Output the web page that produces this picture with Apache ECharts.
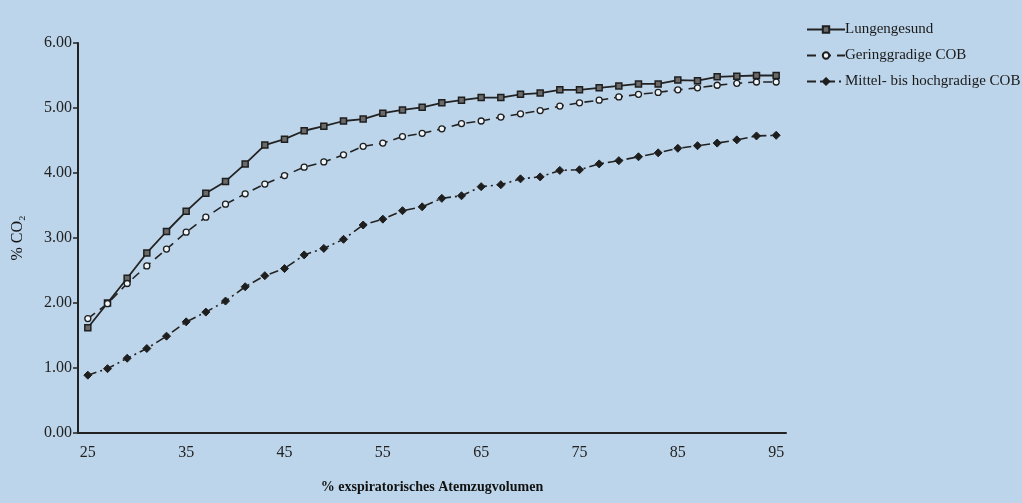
<!DOCTYPE html>
<html><head><meta charset="utf-8">
<script src="https://cdn.jsdelivr.net/npm/echarts@6/dist/echarts.min.js"></script>
<style>html,body{margin:0;padding:0;background:#bdd5ea;}#c{width:1022px;height:503px;}</style>
</head><body><div id="c"></div>
<script>
const categories = ['25','27','29','31','33','35','37','39','41','43','45','47','49','51','53','55','57','59','61','63','65','67','69','71','73','75','77','79','81','83','85','87','89','91','93','95'];
const lungengesund = [1.62,2.00,2.38,2.77,3.10,3.41,3.69,3.87,4.14,4.43,4.52,4.65,4.72,4.80,4.83,4.92,4.97,5.01,5.08,5.12,5.16,5.16,5.21,5.23,5.28,5.28,5.31,5.34,5.37,5.37,5.43,5.42,5.48,5.49,5.50,5.50];
const geringgradig = [1.76,1.99,2.30,2.57,2.83,3.09,3.32,3.52,3.68,3.83,3.96,4.09,4.17,4.28,4.41,4.46,4.56,4.61,4.68,4.76,4.80,4.86,4.91,4.96,5.03,5.08,5.12,5.17,5.21,5.24,5.28,5.31,5.35,5.38,5.40,5.40];
const mittelHoch = [0.89,0.99,1.15,1.30,1.49,1.71,1.86,2.03,2.25,2.42,2.53,2.74,2.84,2.98,3.20,3.29,3.42,3.48,3.61,3.65,3.79,3.82,3.91,3.94,4.04,4.05,4.14,4.19,4.25,4.31,4.38,4.42,4.46,4.51,4.57,4.58];
const seriesNames = ['Lungengesund','Geringgradige COB','Mittel- bis hochgradige COB'];
const yTicks = [0,1,2,3,4,5,6];

const serif = '"Liberation Serif","DejaVu Serif",serif';
const chart = echarts.init(document.getElementById('c'));
chart.setOption({
  backgroundColor: '#bdd5ea',
  animation: false,
  textStyle: {fontFamily: serif},
  grid: {left: 78, right: 236, top: 43, bottom: 70},
  legend: {
    orient: 'vertical', left: 801, top: 17, itemWidth: 38, itemHeight: 8, itemGap: 11,
    textStyle: {fontFamily: serif, fontSize: 15, color: '#1a1a1a', padding: [0,0,0,-5]},
    data: seriesNames
  },
  xAxis: {
    type: 'category', data: categories, boundaryGap: true,
    name: '% exspiratorisches Atemzugvolumen', nameLocation: 'middle', nameGap: 47,
    nameTextStyle: {fontFamily: serif, fontSize: 14, fontWeight: 'bold', color: '#111'},
    axisLine: {lineStyle: {color: '#222', width: 2}},
    axisTick: {interval: 0, length: 5, lineStyle: {color: '#222', width: 1.5}},
    axisLabel: {interval: 4, fontFamily: serif, fontSize: 16, color: '#222', margin: 12},
    splitLine: {show: false}
  },
  yAxis: {
    type: 'value', min: yTicks[0], max: yTicks[yTicks.length-1], interval: 1,
    name: '% CO₂', nameLocation: 'middle', nameGap: 52,
    nameTextStyle: {fontFamily: serif, fontSize: 16, color: '#111'},
    axisLine: {show: true, lineStyle: {color: '#222', width: 2}},
    axisTick: {show: true, length: 5, lineStyle: {color: '#222', width: 1.5}},
    axisLabel: {formatter: v => v.toFixed(2), fontFamily: serif, fontSize: 16, color: '#222', margin: 6},
    splitLine: {show: false}
  },
  series: [
    {name: seriesNames[0], type: 'line', data: lungengesund, symbol: 'rect', symbolSize: 6,
     lineStyle: {color: '#222', width: 1.8, type: 'solid'},
     itemStyle: {color: '#6a6a6a', borderColor: '#1e1e1e', borderWidth: 1.5}},
    {name: seriesNames[1], type: 'line', data: geringgradig, symbol: 'circle', symbolSize: 6,
     lineStyle: {color: '#222', width: 1.6, type: [9,6]},
     itemStyle: {color: '#eef4f8', borderColor: '#1e1e1e', borderWidth: 1.3}},
    {name: seriesNames[2], type: 'line', data: mittelHoch, symbol: 'diamond', symbolSize: 8,
     lineStyle: {color: '#222', width: 1.6, type: [9,4,2,4]},
     itemStyle: {color: '#1e1e1e', borderColor: '#1e1e1e', borderWidth: 1}}
  ]
});
</script></body></html>
